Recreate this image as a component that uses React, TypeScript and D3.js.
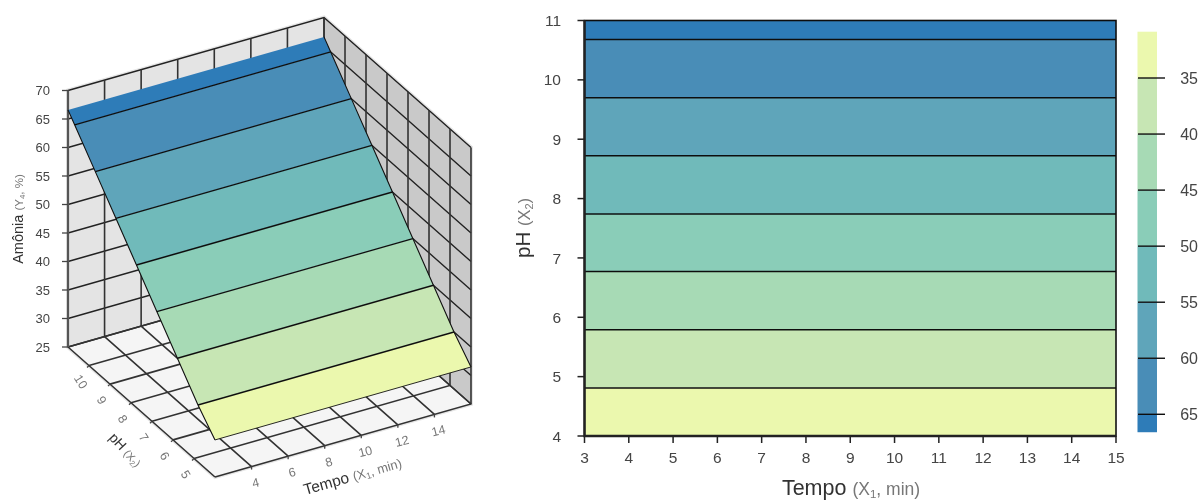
import React from 'react';
import * as d3 from 'd3';

// contour positions, surface ends included
const phBreaks = [4, 4.81, 5.79, 6.77, 7.74, 8.72, 9.7, 10.68, 11];
const amoniaAtBreak = [31.5, 35, 40, 45, 50, 55, 60, 65, 66.6];
const bandColors = ['#ebf8ae', '#c7e6b4', '#a7dab5', '#8acdb8', '#6fbaba', '#5ea5ba', '#4a8db7', '#2f7bb8'];
const barLimits = [30.87, 35, 40, 45, 50, 55, 60, 65, 66.6];

const tempoTicks = [3, 4, 5, 6, 7, 8, 9, 10, 11, 12, 13, 14, 15];
const phTicks = [4, 5, 6, 7, 8, 9, 10, 11];
const barTicks = [35, 40, 45, 50, 55, 60, 65];

const tempo3d = [2, 4, 6, 8, 10, 12, 14, 16];
const tempo3dLabels = [4, 6, 8, 10, 12, 14];
const ph3d = [4, 5, 6, 7, 8, 9, 10, 11];
const ph3dLabels = [5, 6, 7, 8, 9, 10];
const amonia3d = [25, 30, 35, 40, 45, 50, 55, 60, 65, 70];

const font = '"Liberation Sans", Arial, sans-serif';
const grey = '#444';
const lightGrey = '#777';

// right panel scales
const x = d3.scaleLinear().domain([3, 15]).range([584.5, 1116]);
const y = d3.scaleLinear().domain([4, 11]).range([436, 20.5]);
const yBar = d3.scaleLinear().domain([35, 65]).range([78, 414.3]);

// 3d box, parallel projection
const tx = d3.scaleLinear().domain([2, 16]).range([0, 1]);
const ty = d3.scaleLinear().domain([11, 4]).range([0, 1]);
const tz = d3.scaleLinear().domain([25, 70]).range([0, 256.5]);
const surfaceZ = d3.scaleLinear().domain(phBreaks).range(amoniaAtBreak);

const project = (a: number, b: number, c: number): [number, number] => [
  68 + tx(a) * 256 + ty(b) * 147,
  347 - tx(a) * 73 + ty(b) * 130 - tz(c),
];
const line3d = (pts: number[][], close = false) => {
  const gen = d3.line();
  return gen(pts.map((p) => project(p[0], p[1], p[2]))) + (close ? 'Z' : '');
};

const App = () => {
  const bands = bandColors.map((c, i) => ({ c, lo: phBreaks[i], hi: phBreaks[i + 1] }));
  const contours = phBreaks.slice(1, -1);
  const bars = bandColors.map((c, i) => ({ c, lo: barLimits[i], hi: barLimits[i + 1] }));

  return (
    <svg
      width={1202}
      height={500}
      style={{ position: 'absolute', left: 0, top: 0, fontFamily: font }}
    >
      <defs>
        <filter id="soft" x="0" y="0" width="100%" height="100%">
          <feGaussianBlur stdDeviation="0.35" />
        </filter>
      </defs>
      <g filter="url(#soft)">
        {/* 3d walls and floor */}
        <path d={line3d([[2, 11, 70], [16, 11, 70], [16, 4, 70], [16, 4, 25], [2, 4, 25], [2, 11, 25]], true)} fill="none" stroke="#e6e6e6" strokeWidth={4} />
        <path d={line3d([[2, 11, 25], [16, 11, 25], [16, 11, 70], [2, 11, 70]], true)} fill="#e4e4e4" />
        <path d={line3d([[16, 11, 25], [16, 4, 25], [16, 4, 70], [16, 11, 70]], true)} fill="#c9c9c9" />
        <path d={line3d([[2, 11, 25], [16, 11, 25], [16, 4, 25], [2, 4, 25]], true)} fill="#f5f5f5" />
        <g fill="none" stroke="#222" strokeWidth={1.4}>
          {amonia3d.map((z) => (
            <path key={z} d={line3d([[2, 11, z], [16, 11, z], [16, 4, z]])} />
          ))}
          {tempo3d.map((t) => (
            <path key={t} d={line3d([[t, 11, 70], [t, 11, 25], [t, 4, 25]])} stroke="#333" strokeWidth={1.6} />
          ))}
          {ph3d.map((p) => (
            <path key={p} d={line3d([[16, p, 70], [16, p, 25], [2, p, 25]])} stroke="#333" strokeWidth={1.6} />
          ))}
          <path d={line3d([[2, 11, 25], [2, 11, 70]])} stroke="#555" strokeWidth={2.2} />
        </g>

        {/* 3d ticks */}
        <g stroke="#444" strokeWidth={1.3}>
          {amonia3d.map((z) => {
            const [px, py] = project(2, 11, z);
            return <line key={z} x1={px - 6} x2={px} y1={py} y2={py} />;
          })}
          {tempo3dLabels.map((t) => {
            const [px, py] = project(t, 4, 25);
            return <line key={t} x1={px} x2={px} y1={py} y2={py + 3} />;
          })}
          {ph3dLabels.map((p) => {
            const [px, py] = project(2, p, 25);
            return <line key={p} x1={px} x2={px - 2} y1={py} y2={py + 2} />;
          })}
        </g>

        {/* surface */}
        {bands.map((b) => (
          <path
            key={b.lo}
            d={line3d([
              [2, b.lo, surfaceZ(b.lo)],
              [16, b.lo, surfaceZ(b.lo)],
              [16, b.hi, surfaceZ(b.hi)],
              [2, b.hi, surfaceZ(b.hi)],
            ], true)}
            fill={b.c}
          />
        ))}
        <g fill="none" stroke="#111" strokeWidth={1.4}>
          {contours.map((p) => (
            <path key={p} d={line3d([[2, p, surfaceZ(p)], [16, p, surfaceZ(p)]])} />
          ))}
          <path
            d={line3d(phBreaks.map((p) => [2, p, surfaceZ(p)]))}
            strokeWidth={1.1}
          />
          <path
            d={line3d(phBreaks.map((p) => [16, p, surfaceZ(p)]))}
            strokeWidth={1.1}
          />
          <path d={line3d([[2, 4, surfaceZ(4)], [16, 4, surfaceZ(4)]])} strokeWidth={0.9} />
        </g>

        {/* 3d labels */}
        <g fill={grey} fontSize={13}>
          {amonia3d.map((z) => {
            const [px, py] = project(2, 11, z);
            return (
              <text key={z} x={px - 18} y={py} dy="0.36em" textAnchor="end">
                {z}
              </text>
            );
          })}
        </g>
        <g fill={lightGrey} fontSize={12.5}>
          {tempo3dLabels.map((t) => {
            const [px, py] = project(t, 4, 25);
            return (
              <text key={t} transform={`translate(${px + 4},${py + 16}) rotate(-14)`} textAnchor="middle" dy="0.36em">
                {t}
              </text>
            );
          })}
          {ph3dLabels.map((p) => {
            const [px, py] = project(2, p, 25);
            return (
              <text key={p} transform={`translate(${px - 8},${py + 16}) rotate(58)`} textAnchor="middle" dy="0.36em">
                {p}
              </text>
            );
          })}
        </g>
        <text transform="translate(23,219) rotate(-90)" textAnchor="middle" fontSize={14.5} fill="#333">
          Amônia <tspan fontSize={11.5} fill={lightGrey}>(Y<tspan fontSize={8} dy={2}>4</tspan><tspan dy={-2}>, %)</tspan></tspan>
        </text>
        <text transform="translate(122,453) rotate(47)" textAnchor="middle" fontSize={14} fill="#333">
          pH <tspan fontSize={11} fill={lightGrey}>(X<tspan fontSize={7.5} dy={2}>2</tspan><tspan dy={-2}>)</tspan></tspan>
        </text>
        <text transform="translate(354,481) rotate(-16)" textAnchor="middle" fontSize={15.5} fill="#333">
          Tempo <tspan fontSize={13} fill={lightGrey}>(X<tspan fontSize={9} dy={2}>1</tspan><tspan dy={-2}>, min)</tspan></tspan>
        </text>

        {/* contour panel */}
        {bands.map((b) => (
          <rect key={b.lo} x={x(3)} width={x(15) - x(3)} y={y(b.hi)} height={y(b.lo) - y(b.hi)} fill={b.c} />
        ))}
        {contours.map((p) => (
          <line key={p} x1={x(3)} x2={x(15)} y1={y(p)} y2={y(p)} stroke="#111" strokeWidth={1.5} />
        ))}
        <rect x={x(3)} y={y(11)} width={x(15) - x(3)} height={y(4) - y(11)} fill="none" stroke="#111" strokeWidth={1.6} />
        <path d={`M${x(3)},${y(11)}V${y(4)}H${x(15)}`} fill="none" stroke="#222" strokeWidth={2.4} />
        <g stroke="#222" strokeWidth={1.5}>
          {tempoTicks.map((t) => (
            <line key={t} x1={x(t)} x2={x(t)} y1={y(4)} y2={y(4) + 7} />
          ))}
          {phTicks.map((p) => (
            <line key={p} x1={x(3) - 7} x2={x(3)} y1={y(p)} y2={y(p)} />
          ))}
        </g>
        <g fill={grey} fontSize={15.5}>
          {tempoTicks.map((t) => (
            <text key={t} x={x(t)} y={463} textAnchor="middle">{t}</text>
          ))}
          {phTicks.map((p) => (
            <text key={p} x={561} y={y(p)} dy="0.36em" textAnchor="end">{p}</text>
          ))}
        </g>
        <text x={851} y={495} textAnchor="middle" fontSize={21.5} fill="#333">
          Tempo <tspan fontSize={17.5} fill={lightGrey}>(X<tspan fontSize={11.5} dy={3}>1</tspan><tspan dy={-3}>, min)</tspan></tspan>
        </text>
        <text transform="translate(530,228) rotate(-90)" textAnchor="middle" fontSize={20.5} fill="#333">
          pH <tspan fontSize={16.5} fill={lightGrey}>(X<tspan fontSize={11} dy={3}>2</tspan><tspan dy={-3}>)</tspan></tspan>
        </text>

        {/* colour bar */}
        {bars.map((b) => (
          <rect key={b.lo} x={1137.5} width={19.5} y={yBar(b.lo)} height={yBar(b.hi) - yBar(b.lo)} fill={b.c} />
        ))}
        {barTicks.map((v) => (
          <g key={v}>
            <line x1={1138} x2={1165} y1={yBar(v)} y2={yBar(v)} stroke="#111" strokeWidth={1.4} />
            <text x={1198} y={yBar(v)} dy="0.36em" textAnchor="end" fontSize={16} fill={grey}>{v}</text>
          </g>
        ))}
      </g>
    </svg>
  );
};

export default App;
